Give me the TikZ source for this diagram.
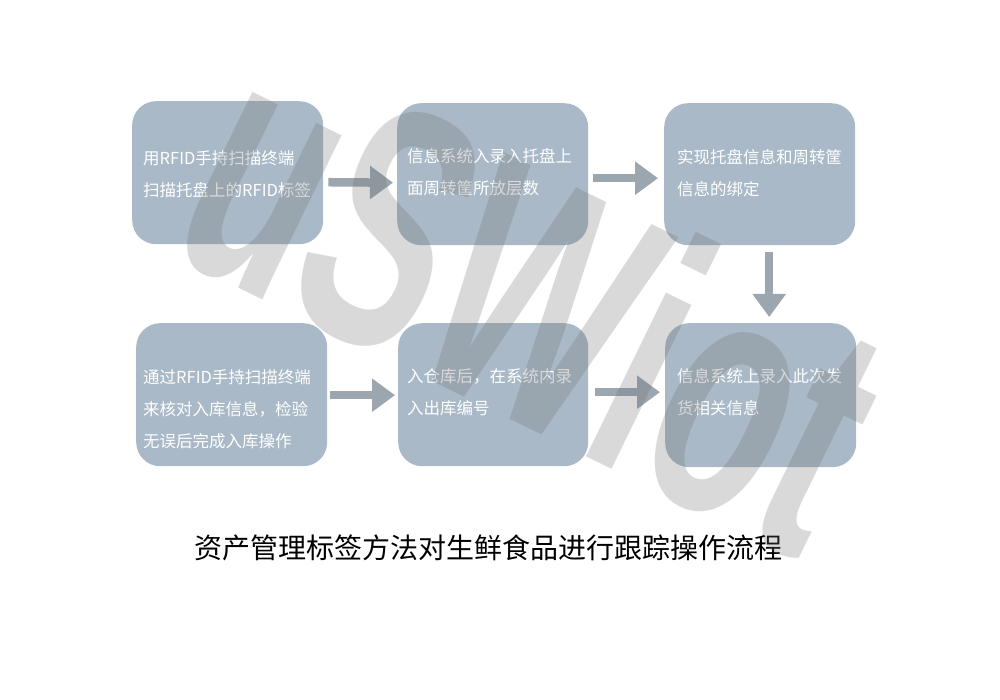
\documentclass[tikz,border=0pt]{standalone}
\usepackage{fontspec}
\newfontfamily\cjk{Noto Sans CJK SC}
\setmainfont{Liberation Sans}
\usetikzlibrary{arrows.meta,calc}
\definecolor{boxfill}{HTML}{A9B9C7}
\definecolor{arrowcol}{HTML}{9BA6AF}
\definecolor{wmcol}{HTML}{6E6E6E}
\tikzset{
  stepbox/.style={fill=boxfill, draw=none, rounded corners=24pt, inner sep=0pt, anchor=north west},
  boxtext/.style={anchor=west, align=left, inner sep=0pt, text=white, font=\cjk\fontsize{16.5}{32}\selectfont},
  flowarrow/.style={draw=arrowcol, line width=8.5pt, -{Triangle[width=32pt,length=23pt]}, arrowcol},
}
\begin{document}
\begin{tikzpicture}[x=1pt,y=-1pt]
\useasboundingbox[fill=white] (0,0) rectangle (1000,700);
% boxes
\node[stepbox, minimum width=191pt, minimum height=143pt] (b1) at (132,101) {};
\node[stepbox, minimum width=191pt, minimum height=142pt] (b2) at (397,103) {};
\node[stepbox, minimum width=191pt, minimum height=142pt] (b3) at (664,103) {};
\node[stepbox, minimum width=191pt, minimum height=143pt] (b4) at (136,323) {};
\node[stepbox, minimum width=190pt, minimum height=143pt] (b5) at (398,323) {};
\node[stepbox, minimum width=191pt, minimum height=144pt] (b6) at (665,323) {};
% texts
\node[boxtext] (t1) at (143,174) {用RFID手持扫描终端\\扫描托盘上的RFID标签};
\node[boxtext] (t2) at (407,172) {信息系统入录入托盘上\\面周转筐所放层数};
\node[boxtext] (t3) at (677,173.5) {实现托盘信息和周转筐\\信息的绑定};
\node[boxtext] (t4) at (143,409.5) {通过RFID手持扫描终端\\来核对入库信息，检验\\无误后完成入库操作};
\node[boxtext] (t5) at (407,392.5) {入仓库后，在系统内录\\入出库编号};
\node[boxtext] (t6) at (677,392.5) {信息系统上录入此次发\\货相关信息};
% arrows
\draw[flowarrow, shorten <=5pt, shorten >=4pt] ($(b1.east)+(0,9.5)$) -- ($(b2.west)+(0,8.5)$);
\draw[flowarrow, shorten <=5pt, shorten >=6pt] ($(b2.east)+(0,4)$) -- ($(b3.west)+(0,4)$);
\draw[flowarrow, shorten <=7pt, shorten >=6pt] ($(b3.south)+(9.5,0)$) -- ($(b6.north)+(8.5,0)$);
\draw[flowarrow, shorten <=3pt, shorten >=3pt] ($(b4.east)+(0,0.5)$) -- ($(b5.west)+(0,0.5)$);
\draw[flowarrow, shorten <=7pt, shorten >=5pt] ($(b5.east)+(0,-2.5)$) -- ($(b6.west)+(0,-3)$);
% title
\node[font=\cjk\fontsize{28}{28}\selectfont, text=black, inner sep=0pt] (title) at (488.5,548) {资产管理标签方法对生鲜食品进行跟踪操作流程};
% watermark
\node[rotate=-26, xscale=0.6, text=wmcol, text opacity=0.26, inner sep=0pt, font=\bfseries\fontsize{345}{345}\selectfont] (wm) at (535,295) {uSWiot};
\end{tikzpicture}
\end{document}
